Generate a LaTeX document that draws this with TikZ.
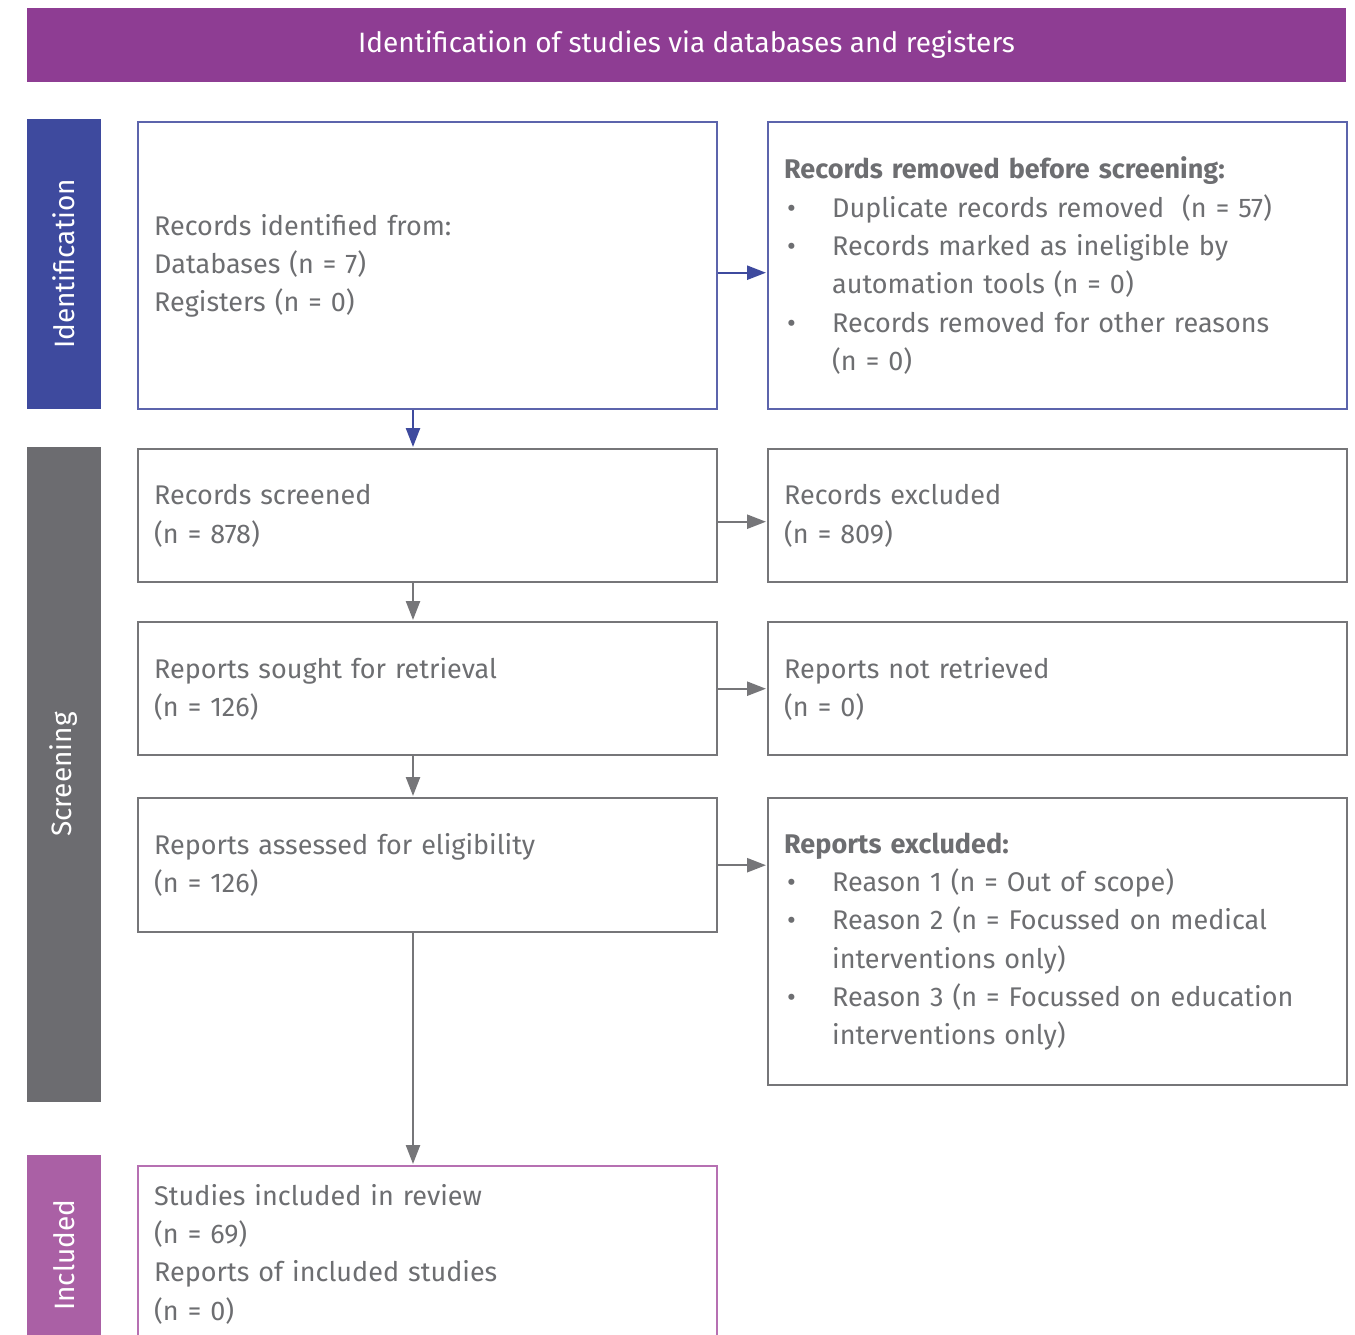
\documentclass[tikz,border=0pt]{standalone}
\usepackage{fontspec}
\setmainfont{Fira Sans}
\usetikzlibrary{arrows.meta,positioning}
\definecolor{PRISMApurple}{RGB}{142,61,147}
\definecolor{PRISMAblue}{RGB}{62,74,158}
\definecolor{PRISMAgray}{RGB}{108,108,112}
\definecolor{PRISMApink}{RGB}{170,96,165}
\definecolor{edgeblue}{RGB}{92,100,172}
\definecolor{edgegray}{RGB}{118,118,121}
\definecolor{edgepink}{RGB}{182,112,178}
\definecolor{txtgray}{RGB}{109,110,113}
\newcommand{\bul}{\makebox[48pt][l]{\hspace{3pt}\textbullet}}
\newcommand{\ind}{\hspace*{48pt}}
\tikzset{
  box/.style={draw, line width=2.4pt, anchor=north west, minimum width=579pt,
    text width=547pt, inner xsep=16pt, align=left, text=txtgray,
    font=\fontsize{27}{38.3}\selectfont},
  bar/.style={rotate=90, text=white, minimum height=74pt, inner sep=0pt,
    font=\fontsize{28}{30}\selectfont},
  flow/.style={line width=2.4pt, -{Triangle[length=19pt,width=14pt]}, shorten >=1pt}
}
\begin{document}
\begin{tikzpicture}[x=1pt,y=-1pt]
\useasboundingbox (0,0) rectangle (1355,1334);
\fill[white] (0,0) rectangle (1355,1334);
\node (title) [fill=PRISMApurple, text=white, minimum width=1319pt, minimum height=74pt,
  font=\fontsize{28}{30}\selectfont] at (686.5,45) {Identification of studies via databases and registers};
% phase bars
\node (idbar) [bar, fill=PRISMAblue, minimum width=290pt] at (64,264) {Identification};
\node (scbar) [bar, fill=PRISMAgray, minimum width=655pt] at (64,774.5) {Screening};
\node (inbar) [bar, fill=PRISMApink, minimum width=200pt] at (64,1255) {Included};
% boxes
\node (id) [box, draw=edgeblue, minimum height=287pt] at (137,121)
  {Records identified from:\\ Databases (n = 7)\\ Registers (n = 0)};
\node (removed) [box, draw=edgeblue, minimum height=287pt] at (767,121)
  {\textbf{Records removed before screening:}\\
   \bul Duplicate records removed~~(n = 57)\\
   \bul Records marked as ineligible by\\
   \ind automation tools (n = 0)\\
   \bul Records removed for other reasons\\
   \ind (n = 0)};
\node (screened) [box, draw=edgegray, minimum height=133pt] at (137,448)
  {Records screened\\ (n = 878)};
\node (excluded) [box, draw=edgegray, minimum height=133pt] at (767,448)
  {Records excluded\\ (n = 809)};
\node (sought) [box, draw=edgegray, minimum height=133pt] at (137,621)
  {Reports sought for retrieval\\ (n = 126)};
\node (notret) [box, draw=edgegray, minimum height=133pt] at (767,621)
  {Reports not retrieved\\ (n = 0)};
\node (assessed) [box, draw=edgegray, minimum height=134pt] at (137,797)
  {Reports assessed for eligibility\\ (n = 126)};
\node (repexcl) [box, draw=edgegray, minimum height=287pt] at (767,797)
  {\textbf{Reports excluded:}\\
   \bul Reason 1 (n = Out of scope)\\
   \bul Reason 2 (n = Focussed on medical\\
   \ind interventions only)\\
   \bul Reason 3 (n = Focussed on education\\
   \ind interventions only)};
\node (included) [box, draw=edgepink, minimum height=176pt] at (137,1165)
  {Studies included in review\\ (n = 69)\\ Reports of included studies\\ (n = 0)};
% connectors
\coordinate (spine) at (413,0);
\draw[flow, PRISMAblue] ([yshift=-7pt]id.east) -- ([yshift=-7pt]removed.west);
\draw[flow, PRISMAblue] (id.south -| spine) -- (screened.north -| spine);
\draw[flow, edgegray] ([yshift=-6pt]screened.east) -- ([yshift=-6pt]excluded.west);
\draw[flow, edgegray] (screened.south -| spine) -- (sought.north -| spine);
\draw[flow, edgegray] (sought.east) -- (notret.west);
\draw[flow, edgegray] (sought.south -| spine) -- (assessed.north -| spine);
\draw[flow, edgegray] (assessed.east) -- (assessed.east -| repexcl.west);
\draw[flow, edgegray] (assessed.south -| spine) -- (included.north -| spine);
\end{tikzpicture}
\end{document}
